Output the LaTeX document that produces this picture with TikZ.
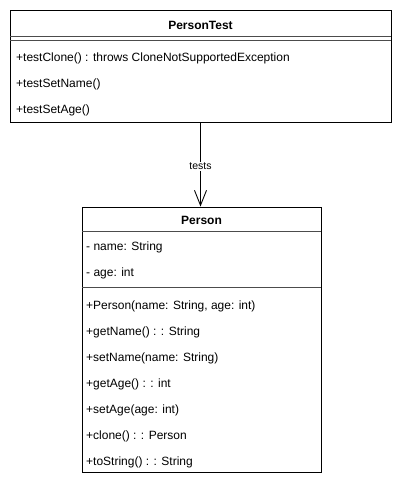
\documentclass[tikz,border=0pt]{standalone}
\usepackage{fontspec}
\setmainfont{Liberation Sans}
\usetikzlibrary{arrows.meta}
\begin{document}
\begin{tikzpicture}[x=1pt,y=-1pt,
  umlbox/.style={draw=black,line width=0.9pt,fill=white,rectangle,inner sep=0pt},
  sepline/.style={draw=black!70,line width=0.9pt},
  member/.style={anchor=base west,inner sep=0pt,font=\fontsize{12}{14}\selectfont},
  title/.style={anchor=base,inner sep=0pt,font=\fontsize{12}{14}\selectfont\bfseries},
  lbl/.style={fill=white,inner sep=1pt,font=\fontsize{10.5}{12}\selectfont},
  link/.style={draw=black,line width=0.9pt,-{Straight Barb[length=15pt,width=12pt,line width=0.9pt]}}]
\useasboundingbox (0,0) rectangle (402,488);
% PersonTest class
\node[umlbox,minimum width=381pt,minimum height=112pt] (pt) at (200.5,66) {};
\node[title] (ptt) at (200.5,29.3) {PersonTest};
\draw[sepline] (10,36) -- (391,36);
\draw[sepline] (10,40.5) -- (391,40.5);
\node[member] (pt1) at (16,61.7) {+testClone() : throws CloneNotSupportedException};
\node[member] (pt2) at (16,87.7) {+testSetName()};
\node[member] (pt3) at (16,113.7) {+testSetAge()};
% Person class
\node[umlbox,minimum width=239pt,minimum height=265pt] (p) at (201.5,339.5) {};
\node[title] (pti) at (201.5,224.3) {Person};
\draw[sepline] (82,231.7) -- (321,231.7);
\node[member] (a1) at (86,250.3) {- name: String};
\node[member] (a2) at (86,276.3) {- age: int};
\draw[sepline] (82,287.7) -- (321,287.7);
\node[member] (m1) at (86,309.7) {+Person(name: String, age: int)};
\node[member] (m2) at (86,335.7) {+getName() : : String};
\node[member] (m3) at (86,361.7) {+setName(name: String)};
\node[member] (m4) at (86,387.7) {+getAge() : : int};
\node[member] (m5) at (86,413.7) {+setAge(age: int)};
\node[member] (m6) at (86,439.7) {+clone() : : Person};
\node[member] (m7) at (86,465.7) {+toString() : : String};
% association
\draw[link] (pt.south) -- (pt.south |- p.north) node[lbl,pos=0.52] {tests};
\end{tikzpicture}
\end{document}
